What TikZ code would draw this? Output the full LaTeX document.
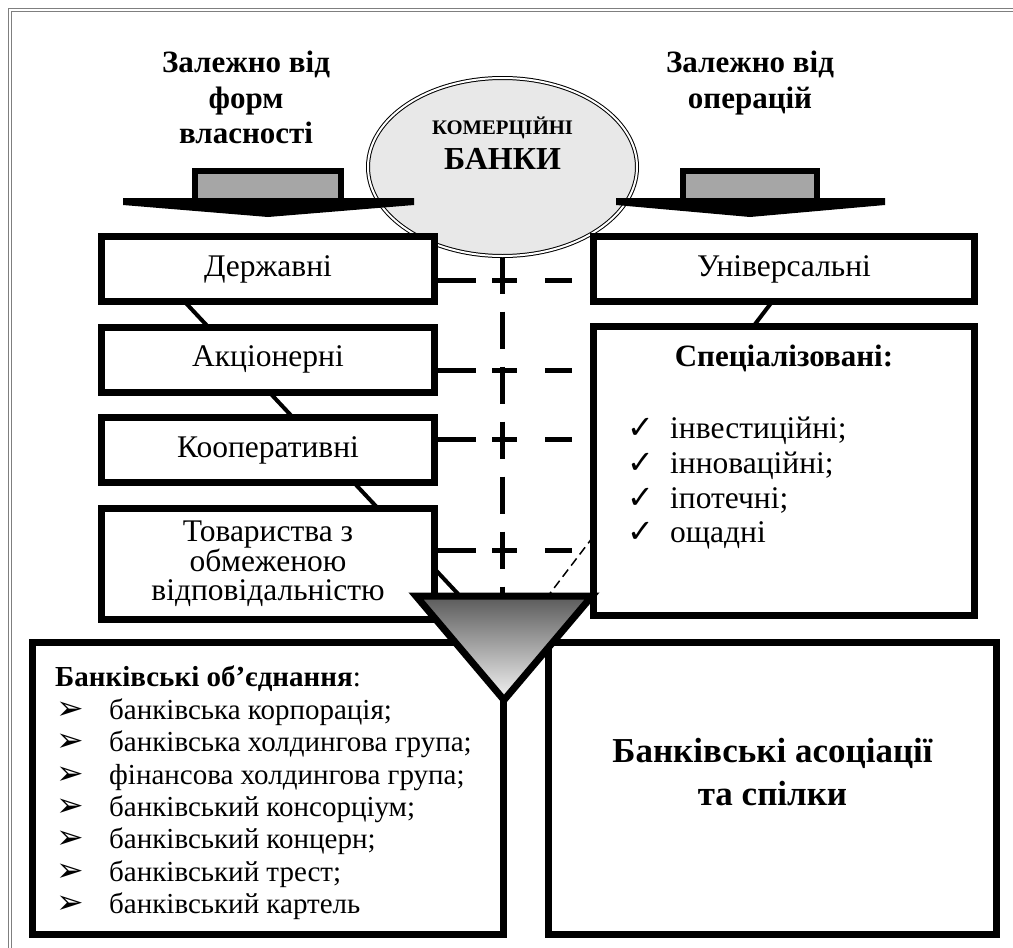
\documentclass[tikz,border=0pt]{standalone}
\usepackage{fontspec}
\setmainfont{Liberation Serif}
\newfontfamily\symfont{DejaVu Sans}
\usepackage{tikz}
\usetikzlibrary{shapes.geometric, positioning, backgrounds, calc}
\definecolor{stemgray}{HTML}{A6A6A6}
\definecolor{ellgray}{HTML}{E8E8E8}
\definecolor{framegray}{HTML}{7F7F7F}
\definecolor{tridark}{HTML}{5A5A5A}
\newcommand{\chk}{\makebox[43pt][l]{\symfont\fontsize{32}{32}\selectfont ✓}}
\newcommand{\bul}{\makebox[54pt][l]{\hspace{1pt}\symfont\fontsize{33}{33}\selectfont ➢}}

\begin{document}
\begin{tikzpicture}[x=1pt, y=-1pt,
  box/.style={rectangle, draw, line width=7pt, fill=white, inner sep=0pt, outer sep=3.5pt, align=center, minimum width=333pt, minimum height=65pt, font=\fontsize{31.5}{28.5}\selectfont},
  heading/.style={align=center, inner sep=0pt, font=\bfseries\fontsize{31}{35.5}\selectfont},
  hline/.style={line width=5pt, dash pattern=on 38pt off 16pt on 25pt off 28pt on 27pt off 30pt},
  vline/.style={line width=5pt, dash pattern=on 37pt off 18pt},
  link/.style={line width=4pt},
  thinlink/.style={line width=1.5pt, dash pattern=on 9pt off 5pt}
]
  \useasboundingbox (0,0) rectangle (1013,948);
  \draw[framegray, line width=1pt, double, double distance=2pt] (10,948) -- (10,10) -- (1013,10);

  \node[heading, anchor=north] (hl) at (246,51) {Залежно від\\форм\\власності};
  \node[heading, anchor=north] (hr) at (750,51) {Залежно від\\операцій};

  \node[ellipse, draw, line width=1pt, double, double distance=2pt, fill=ellgray, minimum width=269pt, minimum height=178pt, inner sep=0pt] (kb) at (502.5,167) {};
  \node[font=\bfseries\fontsize{20.7}{20.7}\selectfont, anchor=base] (kbt) at (502.5,134) {КОМЕРЦІЙНІ};
  \node[font=\bfseries\fontsize{32}{32}\selectfont, anchor=base] (kbb) at (502.5,169) {БАНКИ};

  \node[box] (dzh) at (268,269) {Державні};
  \node[box, below=18.5pt of dzh] (akc) {Акціонерні};
  \node[box, below=18.5pt of akc] (koop) {Кооперативні};
  \node[box, below=18.5pt of koop, minimum height=111pt] (tov) {Товариства з\\обмеженою\\відповідальністю};
  \node[box, right=152pt of dzh, minimum width=381pt] (univ) {Універсальні};
  \node[box, below=17.5pt of univ, minimum width=381pt, minimum height=289pt] (spec) {};
  \node[font=\bfseries\fontsize{31}{31}\selectfont, inner sep=0pt, below=22pt of spec.north] (spect) {Спеціалізовані:};
  \node[align=left, anchor=north west, inner sep=0pt, font=\fontsize{31.5}{34.7}\selectfont] (specl) at (627,417) {\chk інвестиційні;\\\chk інноваційні;\\\chk іпотечні;\\\chk ощадні};

  \draw[line width=6pt, fill=stemgray] (195,171) rectangle (341,203);
  \fill (123,198) -- (414,198) -- (414,205) -- (268,217) -- (123,205) -- cycle;
  \draw[line width=6pt, fill=stemgray] (683,171) rectangle (817,203);
  \fill (616,198) -- (885,198) -- (885,205) -- (750,217) -- (616,205) -- cycle;

  \node[box, below=16pt of tov, minimum width=471pt, minimum height=292pt] (ob) {};
  \node[box, right=38pt of ob, minimum width=448pt, minimum height=292pt] (asoc) {};
  \node[align=center, font=\bfseries\fontsize{35}{43}\selectfont] (asoct) at ($(asoc.center)+(0,-16)$) {Банківські асоціації\\та спілки};
  \node[align=left, anchor=north west, inner sep=0pt, font=\fontsize{29}{32.4}\selectfont] (obl) at (55,666) {\textbf{Банківські об’єднання}:\\\bul банківська корпорація;\\\bul банківська холдингова група;\\\bul фінансова холдингова група;\\\bul банківський консорціум;\\\bul банківський концерн;\\\bul банківський трест;\\\bul банківський картель};

  \coordinate (tl) at (416,596);
  \coordinate (tr) at (592,596);
  \coordinate (tb) at (504,700);
  \coordinate (lu) at ([xshift=-114pt]dzh.center);
  \coordinate (ru) at ([xshift=13pt]univ.center);
  \coordinate (lt) at ($(tl)!0.25!(tr)$);
  \coordinate (rt) at ($(tl)!0.75!(tr)$);

  \begin{scope}[on background layer]
    \draw[vline] (kb.south) -- (kb.south |- tl);
    \draw[hline] ([yshift=-11pt]dzh.east) -- ([yshift=-11pt]dzh.east -| univ.west);
    \draw[hline] ([yshift=-10.5pt]akc.east) -- ([yshift=-10.5pt]akc.east -| spec.west);
    \draw[hline] ([yshift=11pt]koop.east) -- ([yshift=11pt]koop.east -| spec.west);
    \draw[hline] ([yshift=13pt]tov.east) -- ([yshift=13pt]tov.east -| spec.west);
    \draw[link] (lu) -- (lt);
    \draw[link] (ru) -- ($(ru)!0.7!(rt)$);
    \draw[thinlink] ($(ru)!0.817!(rt)$) -- (rt);
  \end{scope}

  \shadedraw[line width=7pt, top color=tridark, bottom color=white!96!black] (tl) -- (tr) -- (tb) -- cycle;
\end{tikzpicture}
\end{document}
